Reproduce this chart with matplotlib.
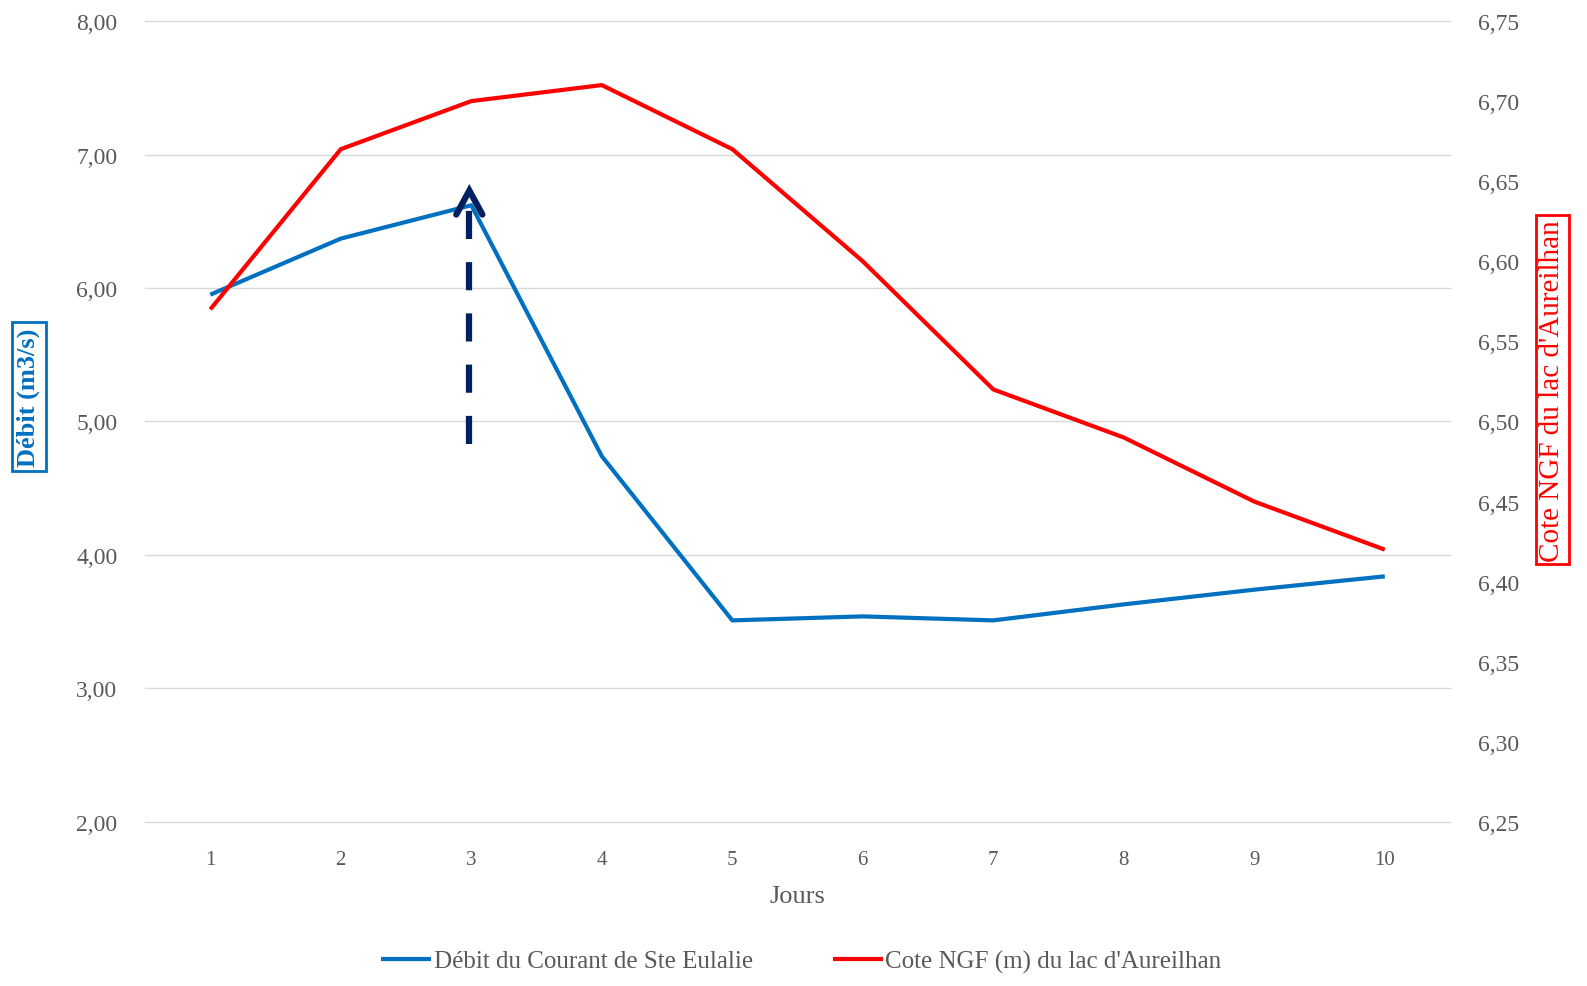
import matplotlib.pyplot as plt
from matplotlib.ticker import FuncFormatter
import numpy as np

# data
jours = [1, 2, 3, 4, 5, 6, 7, 8, 9, 10]
debit = [5.95, 6.37, 6.62, 4.74, 3.51, 3.54, 3.51, 3.63, 3.74, 3.84]
cote = [6.57, 6.67, 6.70, 6.71, 6.67, 6.60, 6.52, 6.49, 6.45, 6.42]

blue = '#0070C0'
red = '#FF0000'
grey = '#595959'

plt.rcParams['font.family'] = ['Liberation Serif', 'DejaVu Serif']

fig = plt.figure(figsize=(15.87, 9.87), dpi=100)
ax = fig.add_axes([0.0914, 0.1662, 0.8223, 0.8115])
ax2 = ax.twinx()

l1, = ax.plot(jours, debit, color=blue, lw=3, solid_capstyle='butt',
              label='Débit du Courant de Ste Eulalie', zorder=3)
l2, = ax2.plot(jours, cote, color=red, lw=3, solid_capstyle='butt',
               label="Cote NGF (m) du lac d'Aureilhan", zorder=3)

ax.set_xlim(0.5, 10.5)
ax.set_ylim(2, 8)
ax2.set_ylim(6.25, 6.75)
ax.set_yticks(np.arange(2, 8.01, 1))
ax2.set_yticks(np.arange(6.25, 6.751, 0.05))
ax.set_xticks(jours)

comma2 = FuncFormatter(lambda v, p: f'{v:.2f}'.replace('.', ','))
ax.yaxis.set_major_formatter(comma2)
ax2.yaxis.set_major_formatter(comma2)

ax.grid(axis='y', color='#d9d9d9', lw=1)
ax.set_axisbelow(True)
for g in ax.get_ygridlines():
    g.set_clip_on(False)
for a in (ax, ax2):
    for s in a.spines.values():
        s.set_visible(False)
    a.tick_params(length=0, colors=grey, labelsize=17)
ax.tick_params(axis='y', pad=20)
ax2.tick_params(axis='y', pad=20)
ax.tick_params(axis='x', pad=20, labelsize=15)

ax.set_xlabel('Jours', fontsize=19, color=grey, labelpad=12)

# dashed arrow pointing at the peak
ax.plot([2.985, 2.985], [4.83, 6.63], color='#002060', lw=4.5,
        dashes=(4.5, 3.7), dash_capstyle='butt', zorder=4)
ax.plot([2.985 - 0.1, 2.985, 2.985 + 0.1], [6.55, 6.73, 6.55],
        color='#002060', lw=4.5, solid_capstyle='round',
        solid_joinstyle='miter', zorder=4)

fig.text(0.018, 0.597, 'Débit (m3/s)', rotation=90, ha='center', va='center',
         color=blue, fontsize=19, fontweight='bold',
         bbox=dict(boxstyle='square,pad=0.2', fc='white', ec=blue, lw=2))
fig.text(0.978, 0.604, "Cote NGF du lac d'Aureilhan", rotation=90,
         ha='center', va='center', color=red, fontsize=21,
         bbox=dict(boxstyle='square,pad=0.12', fc='white', ec=red, lw=2))

fig.legend(handles=[l1, l2], loc='center', bbox_to_anchor=(0.505, 0.025),
           ncol=2, frameon=False, fontsize=18, handlelength=2.0,
           handletextpad=0.1, columnspacing=3.2, labelcolor=grey)

plt.savefig('out.png')
